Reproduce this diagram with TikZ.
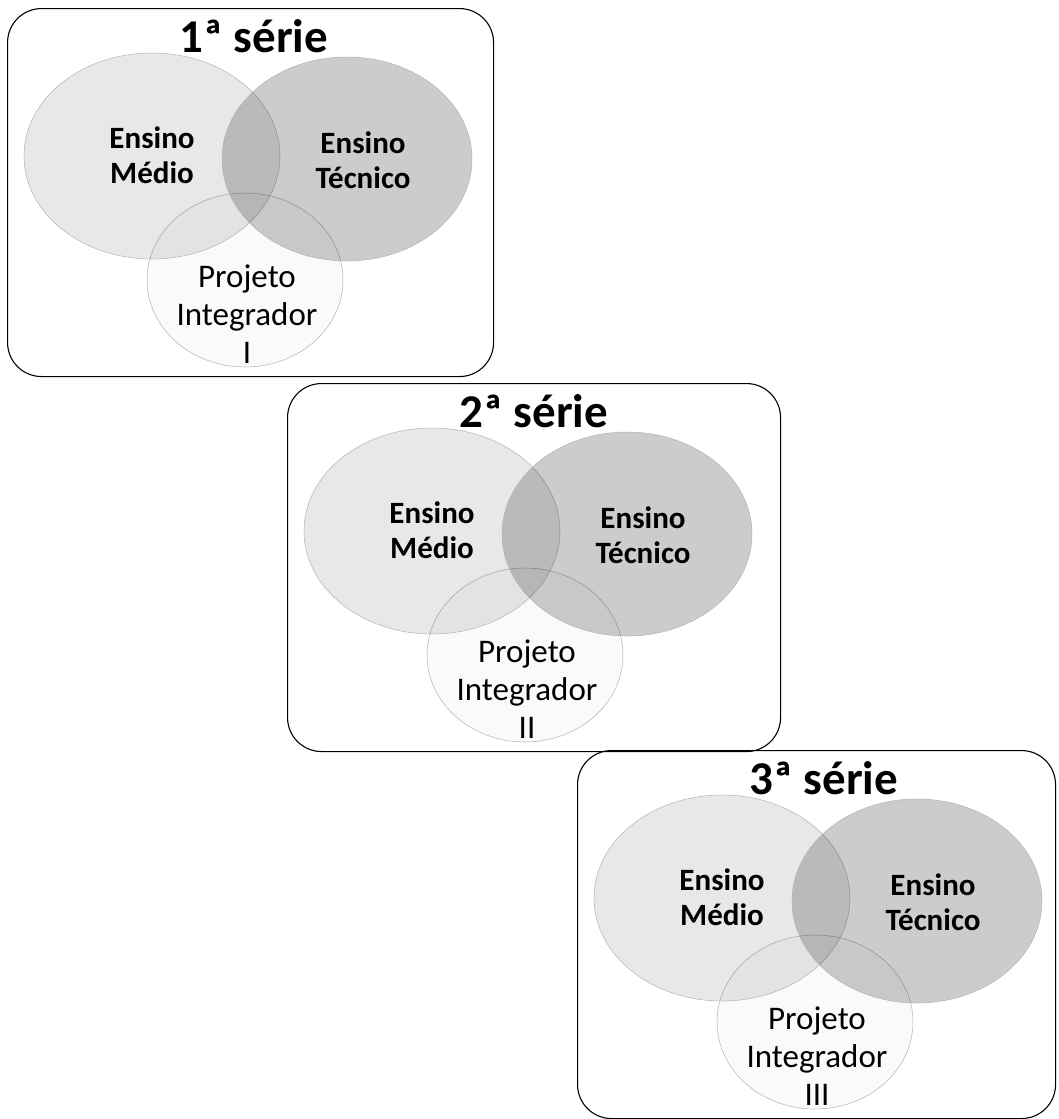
\documentclass[tikz,border=0pt]{standalone}
\usepackage{fontspec}
\setmainfont{Carlito}
\usetikzlibrary{shapes.geometric}
\tikzset{
  boxframe/.style={draw=black, line width=1.1pt, rounded corners=34pt, anchor=north west, minimum height=368pt, inner sep=0pt},
  emset/.style={ellipse, draw=gray!60, line width=0.5pt, fill=black, fill opacity=0.09, minimum width=256pt, minimum height=206pt, inner sep=0pt},
  etset/.style={ellipse, draw=gray!60, line width=0.5pt, fill=black, fill opacity=0.20, minimum width=250pt, minimum height=204pt, inner sep=0pt},
  piset/.style={ellipse, draw=gray!60, line width=0.5pt, fill=black, fill opacity=0.02, minimum width=196pt, minimum height=174pt, inner sep=0pt},
  titletext/.style={font=\bfseries\fontsize{47}{52}\selectfont, inner sep=0pt},
  enstext/.style={font=\bfseries\fontsize{31}{35}\selectfont, align=center, inner sep=0pt},
  pitext/.style={font=\fontsize{33}{38}\selectfont, align=center, inner sep=0pt},
}
\newcommand\seriebox[6]{%
  \begin{scope}[shift={(#2,#3)}]
    \node[boxframe, minimum width=#4pt] (box#1) at (0,0) {};
    \node[piset] (pi#1) at (238,272) {};
    \node[emset] (em#1) at (145,148) {};
    \node[etset] (et#1) at (340,151) {};
    \node[titletext] (title#1) at (247,28) {#5};
    \node[enstext] (emt#1) at (145,147) {Ensino\\Médio};
    \node[enstext] (ett#1) at (356,152) {Ensino\\Técnico};
    \node[pitext] (pit#1) at (240,306) {Projeto\\Integrador\\#6};
  \end{scope}}
\begin{document}
\begin{tikzpicture}[x=1pt, y=-1pt]
  \useasboundingbox (0,0) rectangle (1059,1119);
  \seriebox{1}{7}{8}{486}{1ª série}{I}
  \seriebox{2}{287}{383}{493}{2ª série}{II}
  \seriebox{3}{577}{750}{478}{3ª série}{III}
\end{tikzpicture}
\end{document}
